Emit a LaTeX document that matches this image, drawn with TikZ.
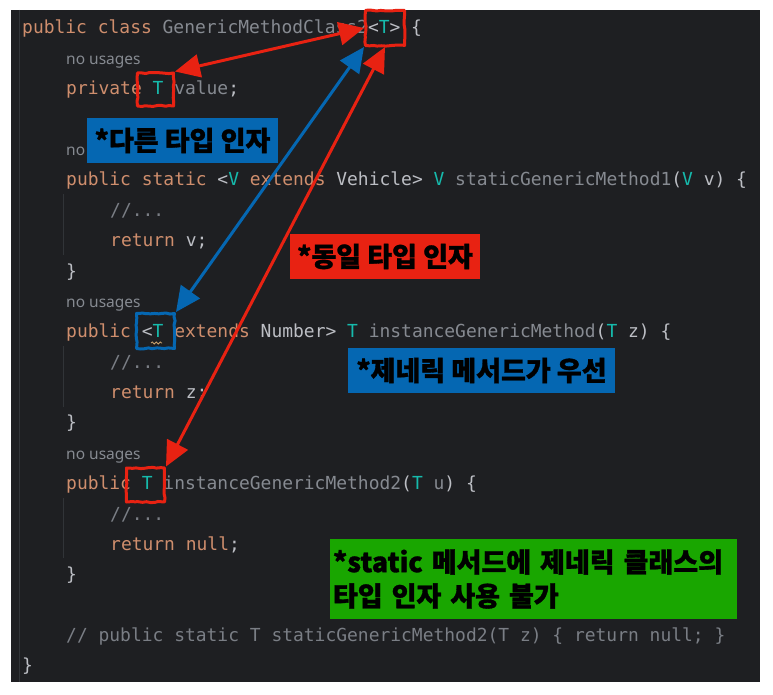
\documentclass[tikz,border=0pt]{standalone}
\usepackage{fontspec}
\setmonofont{DejaVu Sans Mono}
\newfontfamily\hintfont{Noto Sans}
\newfontfamily\kofont{Noto Sans CJK KR}[BoldFeatures={FakeBold=1.2}]
\usetikzlibrary{arrows.meta,decorations.pathmorphing}
\definecolor{editorbg}{HTML}{1E1F22}
\definecolor{guidecol}{HTML}{313438}
\definecolor{codefg}{HTML}{BCBEC4}
\definecolor{kwcol}{HTML}{CF8E6D}
\definecolor{tpcol}{HTML}{16BAAC}
\definecolor{uncol}{HTML}{868A91}
\definecolor{cmcol}{HTML}{7A7E85}
\definecolor{warncol}{HTML}{C9A26D}
\definecolor{notered}{HTML}{E82212}
\definecolor{noteblue}{HTML}{0567B2}
\definecolor{notegreen}{HTML}{19A600}
\newcommand{\codekw}[1]{\textcolor{kwcol}{#1}}
\newcommand{\codetp}[1]{\textcolor{tpcol}{#1}}
\newcommand{\codeun}[1]{\textcolor{uncol}{#1}}
\newcommand{\codesize}{\fontsize{17.95}{20}\selectfont\ttfamily}
\newcommand{\hintsize}{\fontsize{15.5}{18}\selectfont\hintfont}
\newcommand{\notesize}{\fontsize{27}{34}\selectfont\kofont\bfseries}
\begin{document}
\begin{tikzpicture}[x=1pt,y=-1pt,
  code/.style={anchor=base west,inner sep=0pt,font=\codesize,text=codefg},
  hint/.style={anchor=base west,inner sep=0pt,font=\hintsize,text=uncol},
  markbox/.style={draw=#1,line width=3pt,line join=round,inner sep=0pt,
    decorate,decoration={random steps,segment length=4pt,amplitude=0.6pt}},
  note/.style={fill=#1,inner sep=0pt,font=\notesize,text=black},
  link/.style={draw=#1,line width=3pt,
    {Triangle[length=25pt,width=23pt]}-{Triangle[length=25pt,width=23pt]}}]
\useasboundingbox (0,0) rectangle (773,695);
\fill[editorbg] (11,10) rectangle (760,682);
\draw[guidecol,line width=1pt] (19,10) -- (19,682);
\foreach \i in {6,11,16}
  \draw[guidecol,line width=1pt] (63,{27+30.38*\i-15}) -- (63,{27+30.38*(\i+1)+15});
\foreach \i in {1,4,9,14}
  \node[hint] (hint\i) at (66,{34+30.38*\i}) {no usages};
\foreach \i in {6,11,16}
  \node[code,text=cmcol] (dots\i) at (110,{34+30.38*\i}) {//...};
\node[code] (cls) at (22,34) {\codekw{public class }\codeun{GenericMethodClass2}<\codetp{T}> \{};
\node[code] (fld) at (66,{34+30.38*2}) {\codekw{private }\codetp{T} \codeun{value};};
\node[code] (smeth) at (66,{34+30.38*5}) {\codekw{public static }<\codetp{V} \codekw{extends} Vehicle> \codetp{V} \codeun{staticGenericMethod1}(\codetp{V} v) \{};
\node[code] (sret) at (110,{34+30.38*7}) {\codekw{return} v;};
\node[code] (send) at (66,{34+30.38*8}) {\}};
\node[code] (imeth) at (66,{34+30.38*10}) {\codekw{public} <\codetp{T} \codekw{extends} Number> \codetp{T} \codeun{instanceGenericMethod}(\codetp{T} z) \{};
\node[code] (iret) at (110,{34+30.38*12}) {\codekw{return} z;};
\node[code] (iend) at (66,{34+30.38*13}) {\}};
\node[code] (imeth2) at (66,{34+30.38*15}) {\codekw{public} \codetp{T} \codeun{instanceGenericMethod2}(\codetp{T} \codeun{u}) \{};
\node[code] (iret2) at (110,{34+30.38*17}) {\codekw{return null};};
\node[code] (iend2) at (66,{34+30.38*18}) {\}};
\node[code,text=cmcol] (cmt) at (66,{34+30.38*20}) {// public static T staticGenericMethod2(T z) \{ return null; \}};
\node[code] (clsend) at (22,{34+30.38*21}) {\}};
\draw[warncol,line width=0.8pt,decorate,decoration={snake,segment length=4pt,amplitude=1pt}] (151,343) -- (162,343);
\node[markbox=notered,minimum width=39pt,minimum height=35pt] (topT) at (385,28) {};
\node[markbox=notered,minimum width=36pt,minimum height=33pt] (fldT) at (155.5,89.5) {};
\node[markbox=noteblue,minimum width=38pt,minimum height=35pt] (imethT) at (155.5,331) {};
\node[markbox=notered,minimum width=38pt,minimum height=34pt] (imeth2T) at (145.5,485) {};
\draw[link=notered] (fldT.north east) -- (topT.west);
\draw[link=noteblue] (imethT.north east) -- (topT.south west);
\draw[link=notered] (imeth2T.north east) -- (topT.south);
\node[note=noteblue,minimum width=191pt,minimum height=45pt] (diffnote) at (182.5,140.5) {*다른 타입 인자};
\node[note=notered,minimum width=190pt,minimum height=45pt] (samenote) at (385,256.5) {*동일 타입 인자};
\node[note=noteblue,minimum width=267pt,minimum height=45pt] (prionote) at (481.5,370.5) {*제네릭 메서드가 우선};
\node[note=notegreen,minimum width=407pt,minimum height=80pt,align=left,text width=401pt] (staticnote) at (533.5,579) {*static 메서드에 제네릭 클래스의\\타입 인자 사용 불가};
\end{tikzpicture}
\end{document}
